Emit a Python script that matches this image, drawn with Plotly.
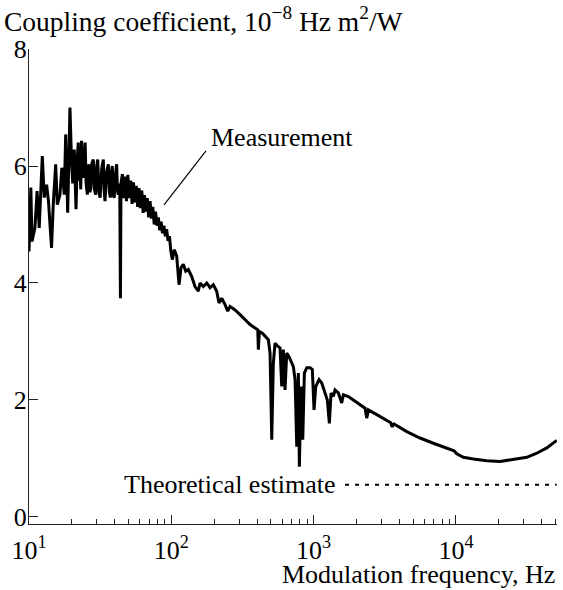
import plotly.graph_objects as go

# Measured coupling coefficient (10^-8 Hz m^2/W) vs modulation frequency (Hz)
meas_freq = [
    10.0, 10.3, 10.5, 11.0, 11.4, 11.8, 12.4, 12.8, 13.3, 13.7, 14.4, 14.8, 15.4, 15.8,
    16.5, 17.0, 17.7, 18.1, 18.7, 19.4, 19.9, 20.3, 20.8, 21.4, 21.8, 22.2, 22.5, 22.8,
    23.1, 23.4, 23.7, 24.1, 24.4, 24.8, 25.2, 25.7, 26.0, 26.4, 26.8, 27.2, 27.7, 28.3,
    28.8, 29.4, 29.9, 30.4, 31.0, 31.6, 32.4, 33.3, 33.7, 34.2, 35.1, 36.1, 36.7, 37.3,
    37.9, 38.5, 39.1, 39.7, 40.5, 41.3, 41.8, 42.4, 43.4, 43.9, 44.3, 45.3, 46.3, 47.3,
    48.4, 49.5, 50.6, 51.8, 53.0, 54.2, 55.4, 56.7, 58.0, 59.3, 60.6, 62.0, 63.4, 64.8,
    66.3, 67.8, 69.3, 70.9, 72.5, 74.1, 75.8, 77.5, 79.3, 81.1, 82.9, 84.8, 86.7, 88.7,
    90.7, 92.7, 94.8, 97.0, 99.2, 101.6, 105.0, 109.1, 113.3, 117.0, 121.4,
    126.3, 131.7, 139.1, 146.7, 154.8, 159.1, 167.9, 177.4, 187.1, 197.3, 208.4, 216.3,
    226.0, 238.5, 249.2, 258.6, 280.3, 304.0, 329.6, 357.4, 387.6, 404.9, 408.8, 415.5,
    436.1, 455.6, 480.6, 494.0, 507.8, 521.1, 535.6, 559.4, 580.6, 596.8, 612.5, 629.6,
    647.1, 671.6, 693.9, 720.2, 740.3, 760.9, 781.0, 793.7, 815.9, 838.6, 860.7, 894.6,
    943.4, 979.2, 1006.5, 1034.6, 1091.4, 1140.0, 1202.6, 1248.3, 1289.3, 1325.4, 1375.7,
    1413.9, 1491.5, 1576, 1617, 1753, 1901, 2119, 2297, 2361, 2423, 2776, 3264, 3482,
    3556, 3673, 4511, 5593, 6939, 8617, 9697, 10130, 11270, 13250, 16470, 20420, 25320,
    31450, 36980, 43460, 51090,
]
meas_val = [
    4.54, 5.63, 4.71, 4.94, 5.57, 4.94, 6.17, 5.46, 5.68, 5.40, 4.60, 5.34, 6.03, 5.34,
    5.51, 5.97, 5.51, 6.54, 5.20, 7.00, 6.08, 5.70, 6.28, 5.26, 6.10, 6.40, 5.75, 6.00,
    5.60, 6.43, 5.85, 5.80, 6.20, 6.40, 5.70, 5.51, 5.95, 6.03, 5.55, 5.63, 6.05, 6.11,
    5.60, 5.51, 6.00, 6.11, 5.55, 5.46, 5.95, 6.11, 5.60, 5.40, 5.90, 6.03, 5.55, 5.46,
    5.90, 6.00, 5.50, 5.46, 5.85, 6.03, 5.60, 5.51, 5.70, 3.74, 5.70, 5.86, 5.45, 5.82,
    5.40, 5.85, 5.45, 5.75, 5.35, 5.72, 5.38, 5.66, 5.30, 5.62, 5.28, 5.58, 5.20, 5.50,
    5.22, 5.45, 5.12, 5.40, 5.10, 5.30, 5.00, 5.22, 4.98, 5.12, 4.90, 5.05, 4.85, 4.98,
    4.80, 4.92, 4.72, 4.80, 4.55, 4.40, 4.57, 4.46, 3.97, 4.26, 4.32,
    4.20, 4.23, 4.11, 3.94, 3.86, 4.00, 3.94, 4.00, 3.92, 3.97, 3.86, 3.66,
    3.74, 3.63, 3.52, 3.60, 3.54, 3.46, 3.37, 3.29, 3.23, 3.20, 2.86, 3.17,
    3.14, 3.09, 3.03, 2.80, 1.32, 2.63, 2.97, 2.92, 2.89, 2.23, 2.86, 2.17,
    2.80, 2.74, 2.66, 2.57, 2.35, 1.20, 2.46, 0.86, 2.23, 1.32, 2.46, 2.55,
    2.55, 2.52, 1.83, 2.23, 2.35, 2.29, 2.12, 2.00, 1.60, 2.12, 2.06,
    2.17, 2.12, 1.95, 2.09, 2.06, 2.00, 1.92, 1.86, 1.69, 1.83, 1.75, 1.66, 1.61,
    1.54, 1.59, 1.46, 1.35, 1.26, 1.18, 1.13, 1.08, 1.02, 0.99, 0.96, 0.95, 0.98,
    1.02, 1.09, 1.18, 1.31,
]

# Theoretical estimate (dotted)
theory_freq = [1662, 51000]
theory_val = [0.55, 0.55]

# Axis ticks
x_tickvals = [10, 100, 1000, 10000]
x_ticktext = ["10<sup>1</sup>", "10<sup>2</sup>", "10<sup>3</sup>", "10<sup>4</sup>"]
x_minor = [m * d for d in (10, 100, 1000, 10000) for m in range(2, 10) if m * d <= 51000]
y_tickvals = [0, 2, 4, 6, 8]

FONT = "Liberation Serif, Times New Roman, serif"
FS = 26

fig = go.Figure()
fig.add_trace(go.Scatter(
    x=meas_freq, y=meas_val, mode="lines",
    line=dict(color="black", width=3), showlegend=False,
))
fig.add_trace(go.Scatter(
    x=theory_freq, y=theory_val, mode="lines",
    line=dict(color="black", width=2, dash="4px,6px"), showlegend=False,
))

fig.update_layout(
    width=563, height=590,
    margin=dict(l=29, r=6, t=49, b=66, autoexpand=False),
    paper_bgcolor="white", plot_bgcolor="white",
    font=dict(family=FONT, size=FS, color="black"),
    xaxis=dict(
        type="log", range=[1, 4.71], automargin=False,
        tickmode="array", tickvals=x_tickvals, ticktext=x_ticktext,
        ticks="inside", ticklen=9, tickwidth=1, tickcolor="#222",
        minor=dict(tickmode="array", tickvals=x_minor, ticks="inside", ticklen=5,
                   tickwidth=1, tickcolor="#222", showgrid=False),
        showline=True, linecolor="#222", linewidth=1.3,
        showgrid=False, zeroline=False, ticklabelstandoff=3,
        tickfont=dict(family=FONT, size=FS, color="black"),
    ),
    yaxis=dict(
        range=[-0.12, 8], automargin=False,
        tickmode="array", tickvals=y_tickvals,
        ticks="inside", ticklen=9, tickwidth=1, tickcolor="#222",
        showline=True, linecolor="#222", linewidth=1.3,
        showgrid=False, zeroline=False, ticklabelstandoff=-4,
        tickfont=dict(family=FONT, size=FS, color="black"),
    ),
    annotations=[
        dict(text="Coupling coefficient, 10<sup>\u22128</sup> Hz m<sup>2</sup>/W",
             xref="paper", yref="paper", x=-0.0511, y=1.063,
             xanchor="left", yanchor="middle", showarrow=False,
             font=dict(family=FONT, size=27.5, color="black")),
        dict(text="Modulation frequency, Hz",
             xref="paper", yref="paper", x=1.0, y=-0.107,
             xanchor="right", yanchor="middle", showarrow=False,
             font=dict(family=FONT, size=FS, color="black")),
        dict(text="Measurement",
             xref="paper", yref="paper", x=0.3409, y=0.8147,
             xanchor="left", yanchor="middle", showarrow=False,
             font=dict(family=FONT, size=FS, color="black")),
        dict(text="Theoretical estimate",
             xref="paper", yref="paper", x=0.5852, y=0.0842,
             xanchor="right", yanchor="middle", showarrow=False,
             font=dict(family=FONT, size=FS, color="black")),
    ],
    shapes=[
        dict(type="line", xref="paper", yref="paper",
             x0=0.2557, y0=0.6716, x1=0.3352, y1=0.7853,
             line=dict(color="black", width=1.2)),
    ],
)

fig.write_html("out.html", config={"displayModeBar": False},
               post_script="document.body.style.margin='0px';")
